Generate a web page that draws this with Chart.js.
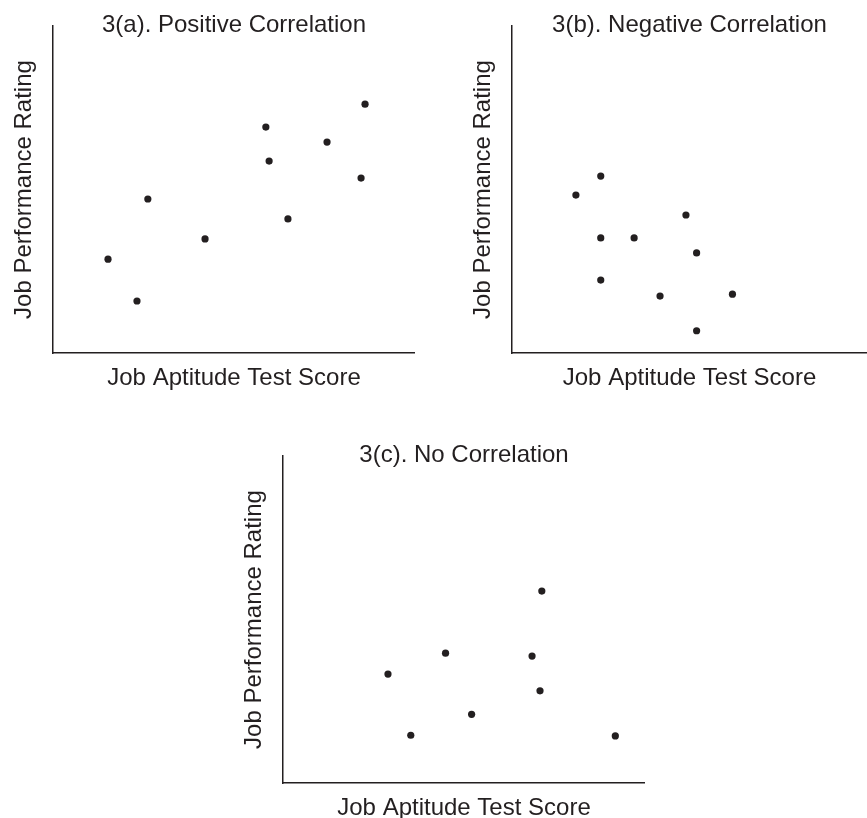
<!DOCTYPE html>
<html lang="en">
<head>
  <meta charset="UTF-8" />
  <title>Correlation scatter plots</title>
  <script src="https://cdn.jsdelivr.net/npm/chart.js"></script>
  <style>
    body {
      margin: 0;
      width: 867px;
      height: 818px;
      overflow: hidden;
      background: #fff;
      position: relative;
    }
    canvas {
      position: absolute;
    }
  </style>
</head>
<body>
  <canvas id="chartA" width="415" height="400" style="left:0px;top:0px"></canvas>
  <canvas id="chartB" width="408" height="400" style="left:459px;top:0px"></canvas>
  <canvas id="chartC" width="415" height="400" style="left:229.5px;top:430px"></canvas>

  <script>
    // axis titles and panel titles
    const xLabel = "Job Aptitude Test Score";
    const yLabel = "Job Performance Rating";
    const panelTitles = ["3(a). Positive Correlation", "3(b). Negative Correlation", "3(c). No Correlation"];

    // 3(a) positive
    const posX = [15.2, 23.2, 26.2, 42.0, 58.8, 59.7, 64.9, 75.7, 85.1, 86.2];
    const posY = [28.7, 15.9, 47.1, 34.9, 69.1, 58.7, 41.0, 64.5, 53.5, 76.1];

    // 3(b) negative
    const negX = [18.0, 25.0, 25.0, 34.4, 25.0, 49.0, 52.0, 41.7, 62.1, 52.0];
    const negY = [48.3, 54.1, 35.2, 35.2, 22.3, 42.2, 30.6, 17.4, 18.0, 6.8];

    // 3(c) none
    const noneX = [29.0, 35.3, 44.9, 52.1, 68.8, 71.5, 71.0, 91.8];
    const noneY = [33.3, 14.6, 39.7, 21.0, 38.8, 58.7, 28.2, 14.4];

    const ink = "#231f20";
    const fontFamily = "'Liberation Sans', Arial, sans-serif";

    // draws the panel title beside the top of the y axis
    const panelTitle = {
      id: "panelTitle",
      afterDraw(chart, args, opts) {
        const { ctx, chartArea } = chart;
        ctx.save();
        ctx.fillStyle = ink;
        ctx.font = "24px " + fontFamily;
        ctx.textAlign = "center";
        ctx.textBaseline = "alphabetic";
        ctx.fillText(opts.text, (chartArea.left + chartArea.right) / 2, 32);
        ctx.restore();
      }
    };

    function makeChart(id, xs, ys, title) {
      const points = xs.map((x, i) => ({ x: x, y: ys[i] }));
      return new Chart(document.getElementById(id), {
        type: "scatter",
        data: {
          datasets: [{
            data: points,
            pointRadius: 3.6,
            pointBackgroundColor: ink,
            pointBorderWidth: 0
          }]
        },
        options: {
          responsive: false,
          animation: false,
          devicePixelRatio: 1,
          layout: {
            autoPadding: false,
            padding: { left: 0, top: 26, right: 0, bottom: 5.6 }
          },
          scales: {
            x: {
              type: "linear",
              min: 0,
              max: 100,
              grid: { display: false, drawTicks: false },
              border: { display: true, color: ink, width: 1.5 },
              ticks: { display: false },
              title: {
                display: true,
                text: xLabel,
                color: ink,
                font: { family: fontFamily, size: 24 },
                padding: { top: 11, bottom: 1.6 }
              }
            },
            y: {
              type: "linear",
              min: 0,
              max: 100,
              grid: { display: false, drawTicks: false },
              border: { display: true, color: ink, width: 1.5 },
              ticks: { display: false },
              title: {
                display: true,
                text: yLabel,
                color: ink,
                font: { family: fontFamily, size: 24 },
                padding: { top: 10, bottom: 14.2 }
              }
            }
          },
          plugins: {
            legend: { display: false },
            tooltip: { enabled: false },
            panelTitle: { text: title }
          }
        },
        plugins: [panelTitle]
      });
    }

    makeChart("chartA", posX, posY, panelTitles[0]);
    makeChart("chartB", negX, negY, panelTitles[1]);
    makeChart("chartC", noneX, noneY, panelTitles[2]);
  </script>
</body>
</html>
